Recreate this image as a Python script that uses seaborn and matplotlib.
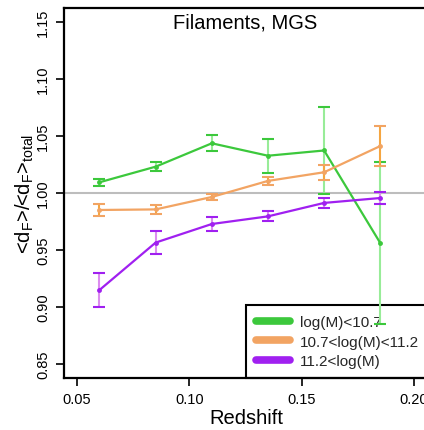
import numpy as np
import pandas as pd
import matplotlib
matplotlib.use("Agg")
import matplotlib.pyplot as plt
import seaborn as sns

# Redshift bins and mean filament distance ratio per stellar-mass bin
redshift = [0.06, 0.085, 0.11, 0.135, 0.16, 0.185]
mass_bins = ["log(M)<10.7", "10.7<log(M)<11.2", "11.2<log(M)"]
ratio_low = [1.0094, 1.0231, 1.0436, 1.0327, 1.0373, 0.9561]
ratio_mid = [0.9851, 0.9856, 0.9965, 1.0106, 1.0182, 1.0412]
ratio_high = [0.9149, 0.9565, 0.9728, 0.9795, 0.9913, 0.9956]
err_low = [0.0032, 0.0041, 0.0070, 0.0148, 0.0384, 0.0710]
err_mid = [0.0051, 0.0039, 0.0027, 0.0038, 0.0067, 0.0175]
err_high = [0.0148, 0.0101, 0.0060, 0.0044, 0.0045, 0.0054]

x_ticks = [0.05, 0.10, 0.15, 0.20]
y_ticks = [0.85, 0.90, 0.95, 1.00, 1.05, 1.10, 1.15]

line_colors = ["#3cc83c", "#f2a463", "#a020f0"]
bar_colors = ["#98ec98", "#f5a540", "#dc8cf0"]

sns.set_theme(style="white")
plt.rcParams["font.family"] = ["Liberation Sans", "DejaVu Sans"]
plt.rcParams["mathtext.fontset"] = "custom"
plt.rcParams["mathtext.rm"] = "Liberation Sans"
plt.rcParams["mathtext.it"] = "Liberation Sans:italic"

df = pd.DataFrame({
    "z": redshift * 3,
    "ratio": ratio_low + ratio_mid + ratio_high,
    "err": err_low + err_mid + err_high,
    "bin": [b for b in mass_bins for _ in redshift],
})

fig = plt.figure(figsize=(4.24, 4.31), dpi=100)
ax = fig.add_axes([64 / 424, 52 / 431, 363 / 424, 370 / 431])

ax.axhline(1.0, color="#bdbdbd", lw=1.5, zorder=1)

for b, lc, bc in zip(mass_bins, line_colors, bar_colors):
    sub = df[df["bin"] == b]
    # light vertical bars
    ax.errorbar(sub["z"], sub["ratio"], yerr=sub["err"], fmt="none",
                ecolor=bc, elinewidth=1.5, capsize=0, zorder=2)
    # darker caps
    ax.errorbar(sub["z"], sub["ratio"], yerr=sub["err"], fmt="none",
                ecolor=lc, elinewidth=0, capsize=4.2, capthick=1.5, zorder=2)

sns.lineplot(data=df, x="z", y="ratio", hue="bin", hue_order=mass_bins,
             palette=line_colors, marker="o", markersize=3.5,
             markeredgewidth=0, linewidth=1.6, ax=ax, zorder=3)

ax.set_xlim(0.0442, 0.2058)
ax.set_ylim(0.8377, 1.1623)
ax.set_xticks(x_ticks)
ax.set_xticklabels([f"{t:.2f}" for t in x_ticks])
ax.set_yticks(y_ticks)
ax.set_yticklabels([f"{t:.2f}" for t in y_ticks], rotation=90, va="center")
ax.tick_params(axis="both", which="major", direction="out", length=6,
               width=1.2, color="black", labelsize=10.5, labelcolor="black",
               bottom=True, left=True, top=False, right=False)
ax.tick_params(axis="y", pad=4)
ax.tick_params(axis="x", pad=4)
for side in ["left", "bottom", "top", "right"]:
    ax.spines[side].set_color("black")
    ax.spines[side].set_linewidth(1.6)
ax.set_xlabel("")
ax.set_ylabel("")

ax.text(0.5, 0.962, "Filaments, MGS", transform=ax.transAxes,
        ha="center", va="center", fontsize=14.5, color="black")
fig.text(246 / 424, 12 / 431, "Redshift", ha="center", va="center",
         fontsize=14.5, color="black")
fig.text(25 / 424, 237 / 431,
         r"<d$_{\rm F}$>/<d$_{\rm F}$>$_{\rm total}$",
         rotation=90, ha="center", va="center", fontsize=14.5, color="black")

handles, labels = ax.get_legend_handles_labels()
leg = ax.legend(handles, labels, loc="lower left",
                bbox_to_anchor=((246 - 64) / 363, 0.0), borderaxespad=0,
                fontsize=11, frameon=True, fancybox=False, framealpha=1,
                edgecolor="black", handlelength=2.2, handletextpad=0.7,
                borderpad=0.65, labelspacing=0.35)
leg.get_frame().set_linewidth(1.5)
leg.set_zorder(1.5)
for ln in leg.get_lines():
    ln.set_linewidth(5.5)
    ln.set_marker("")
    ln.set_solid_capstyle("round")

fig.savefig("out.png", dpi=100)
